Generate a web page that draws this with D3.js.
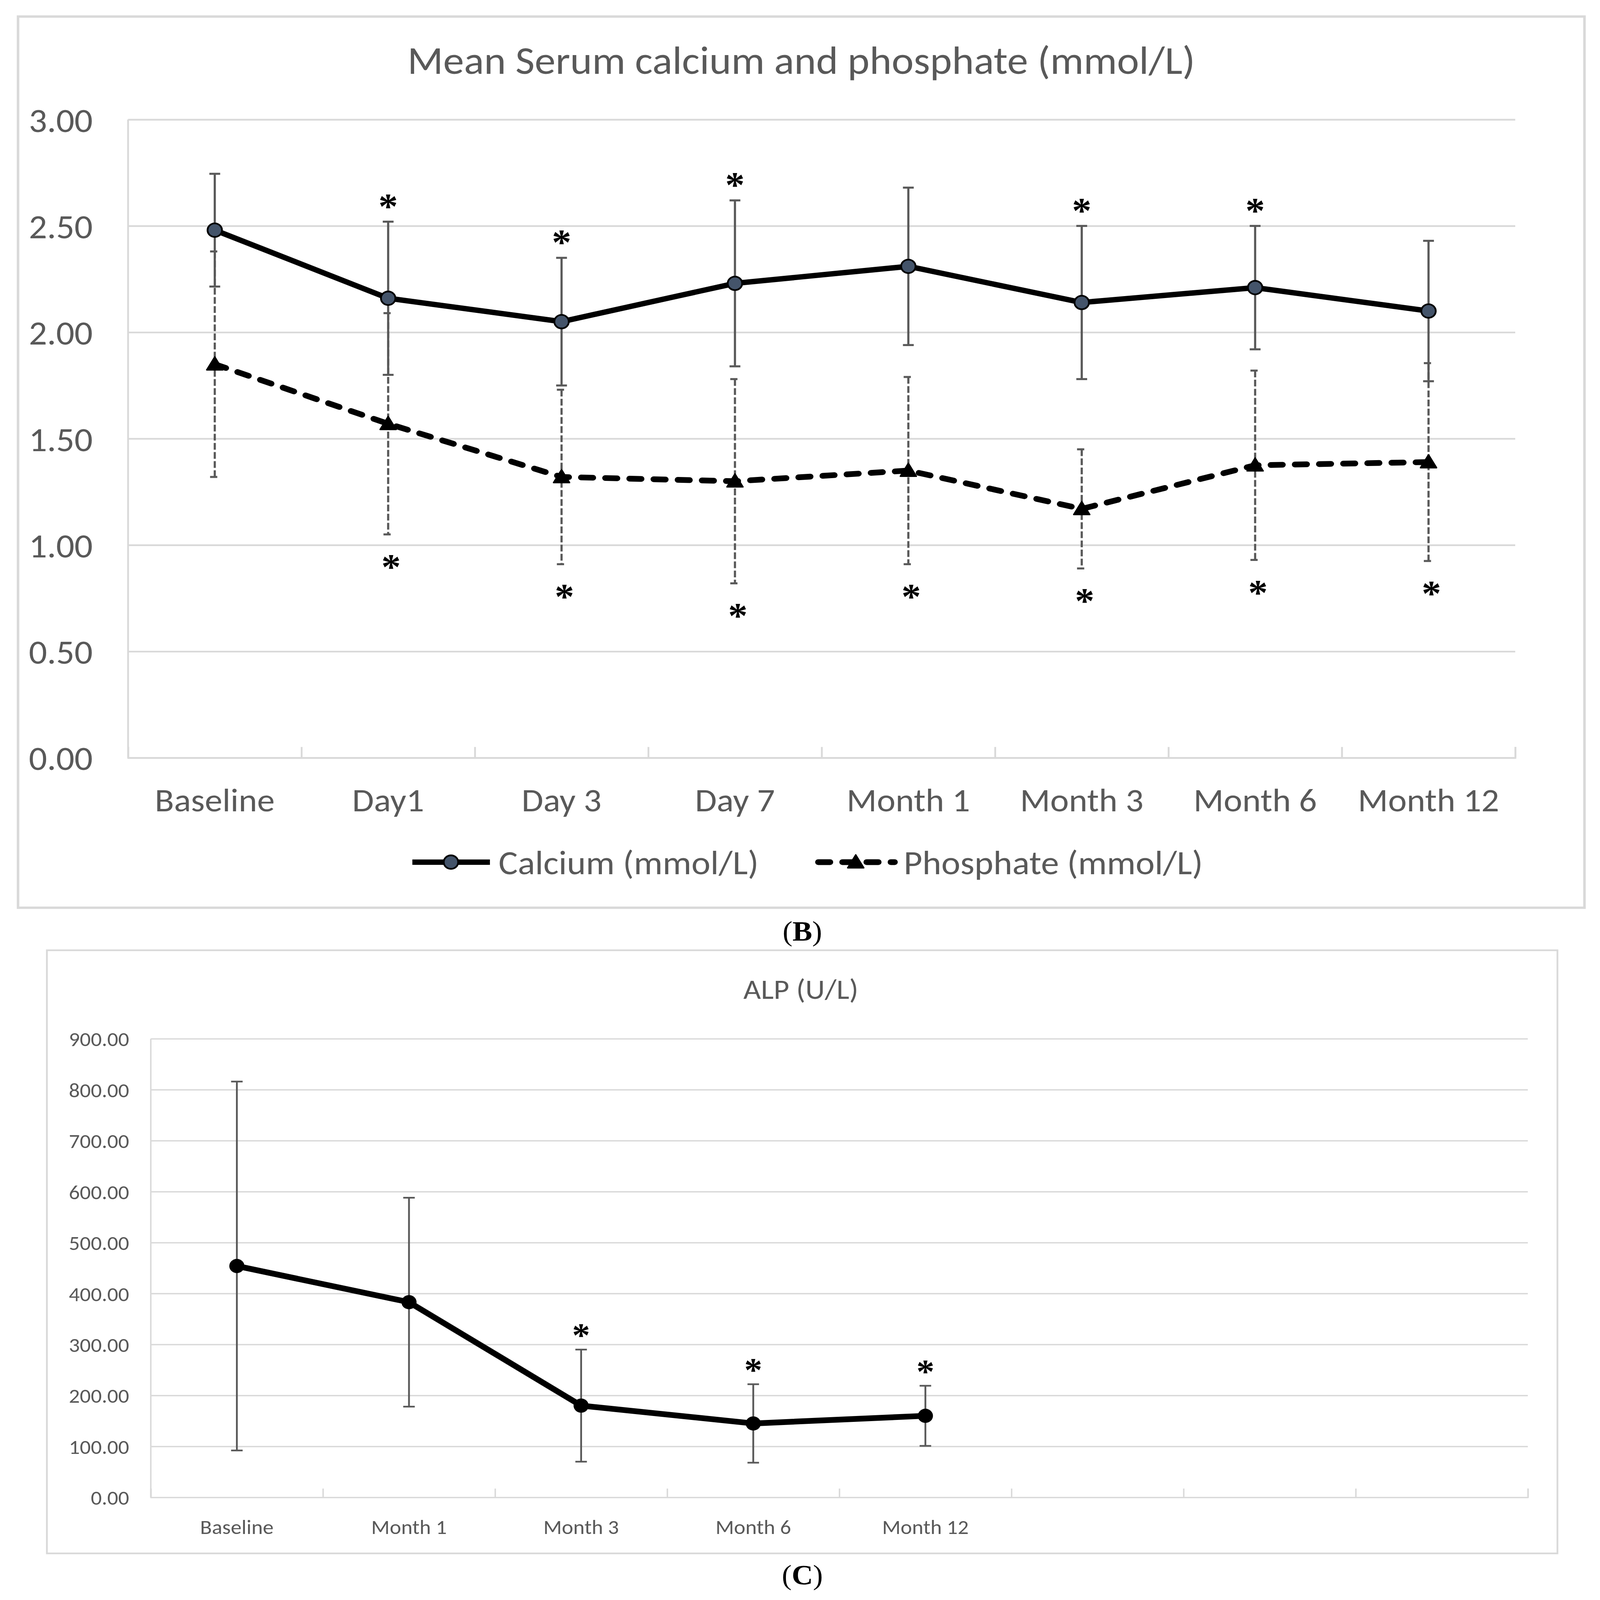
<!DOCTYPE html>
<html>
<head>
<meta charset="utf-8">
<script src="https://cdn.jsdelivr.net/npm/d3@7/dist/d3.min.js"></script>
<style>
html, body {
  margin: 0;
  padding: 0;
  width: 100%;
  height: 100%;
  overflow: hidden;
  background-color: white;
}
.axis text {
  font-family: Carlito, Calibri, Lato, sans-serif;
  fill: #595959;
}
.star {
  font-family: "Liberation Serif", "Times New Roman", serif;
  font-weight: bold;
  fill: black;
}
</style>
</head>
<body>
<script>
// panel B: calcium and phosphate
const topCategories = ["Baseline", "Day1", "Day 3", "Day 7", "Month 1", "Month 3", "Month 6", "Month 12"];
const calciumMean = [2.48, 2.16, 2.05, 2.23, 2.31, 2.14, 2.21, 2.10];
const calciumSD = [0.265, 0.36, 0.30, 0.39, 0.37, 0.36, 0.29, 0.33];
const calciumSig = [false, true, true, true, false, true, true, false];
const phosphateMean = [1.85, 1.57, 1.32, 1.30, 1.35, 1.17, 1.375, 1.39];
const phosphateSD = [0.53, 0.52, 0.41, 0.48, 0.44, 0.28, 0.445, 0.465];
const phosphateSig = [false, true, true, true, true, true, true, true];
const topTicks = [0, 0.5, 1, 1.5, 2, 2.5, 3];

// panel C: ALP
const alpCategories = ["Baseline", "Month 1", "Month 3", "Month 6", "Month 12"];
const alpMean = [454, 383, 180, 145, 160];
const alpSD = [362, 205, 110, 77, 59];
const alpSig = [false, false, true, true, true];
const alpTicks = [0, 100, 200, 300, 400, 500, 600, 700, 800, 900];

const W = 4435, H = 4738;
const grey = "#d9d9d9", textGrey = "#595959";
const sans = "Carlito, Calibri, Lato, sans-serif";

// scale the drawing to whatever viewport we get
const svg = d3.select("body").append("svg")
  .attr("viewBox", `0 0 ${W} ${H}`)
  .attr("preserveAspectRatio", "none")
  .style("width", "100vw").style("height", "100vh")
  .style("display", "block");

svg.append("rect").attr("width", W).attr("height", H).attr("fill", "white");

function caption(letter, x, y) {
  const t = svg.append("text")
    .attr("x", x).attr("y", y)
    .attr("text-anchor", "middle")
    .attr("font-family", "'Liberation Serif', 'Times New Roman', serif")
    .attr("font-size", 82)
    .attr("fill", "black");
  t.append("tspan").text("(");
  t.append("tspan").attr("font-weight", "bold").text(letter);
  t.append("tspan").text(")");
}

function errorBars(g, xs, ys, mean, sd, cap, style) {
  const bars = g.append("g")
    .attr("stroke", textGrey)
    .attr("stroke-width", style.width)
    .attr("stroke-dasharray", style.dash || null)
    .attr("fill", "none");
  mean.forEach((m, i) => {
    const cx = xs(i) + xs.bandwidth() / 2;
    const y1 = ys(m + sd[i]), y2 = ys(m - sd[i]);
    bars.append("line").attr("x1", cx).attr("x2", cx).attr("y1", y1).attr("y2", y2);
    bars.append("line").attr("x1", cx - cap).attr("x2", cx + cap).attr("y1", y1).attr("y2", y1);
    bars.append("line").attr("x1", cx - cap).attr("x2", cx + cap).attr("y1", y2).attr("y2", y2);
  });
}

// asterisks: drawn for the flagged indices only
function stars(g, sig, xOf, yOf, size) {
  g.selectAll(null).data(d3.range(sig.length).filter(i => sig[i])).join("text")
    .attr("class", "star")
    .attr("x", xOf).attr("y", yOf)
    .attr("text-anchor", "middle").attr("font-size", size)
    .text("*");
}

// ---------------- panel B ----------------
{
  const frame = {x: 50, y: 49, w: 4342, h: 2639};
  const left = 355, right = 4200, top = 354, bottom = 2244;

  svg.append("rect")
    .attr("x", frame.x).attr("y", frame.y)
    .attr("width", frame.w).attr("height", frame.h)
    .attr("fill", "white").attr("stroke", grey).attr("stroke-width", 7);

  svg.append("text")
    .attr("x", 2221).attr("y", 219)
    .attr("text-anchor", "middle")
    .attr("font-family", sans)
    .attr("font-size", 116)
    .attr("fill", textGrey)
    .text("Mean Serum calcium and phosphate (mmol/L)");

  const x = d3.scaleBand().domain(d3.range(topCategories.length)).range([left, right]);
  const y = d3.scaleLinear().domain([0, 3]).range([bottom, top]);
  const edge = d3.scaleLinear().domain([0, topCategories.length]).range([left, right]);
  const cx = i => x(i) + x.bandwidth() / 2;

  const g = svg.append("g");

  g.append("g").attr("class", "axis")
    .attr("transform", `translate(${left},0)`)
    .call(d3.axisLeft(y).tickValues(topTicks).tickFormat(d3.format(".2f")).tickSize(-(right - left)))
    .call(a => a.select(".domain").remove())
    .call(a => a.selectAll("line").attr("stroke", grey).attr("stroke-width", 5))
    .call(a => a.selectAll("text").attr("x", -98).attr("dy", "0.36em").attr("font-size", 100));

  // y axis line
  g.append("line").attr("x1", left).attr("x2", left).attr("y1", top).attr("y2", bottom)
    .attr("stroke", grey).attr("stroke-width", 5);

  // category boundary ticks
  g.append("g").attr("class", "axis")
    .attr("transform", `translate(0,${bottom})`)
    .call(d3.axisBottom(edge).tickValues(d3.range(topCategories.length + 1)).tickSize(-32).tickFormat(""))
    .call(a => a.select(".domain").attr("stroke", grey).attr("stroke-width", 5))
    .call(a => a.selectAll("line").attr("stroke", grey).attr("stroke-width", 5));

  g.append("g").attr("class", "axis")
    .attr("transform", `translate(0,${bottom})`)
    .call(d3.axisBottom(x).tickSize(0).tickFormat(i => topCategories[i]))
    .call(a => a.select(".domain").remove())
    .call(a => a.selectAll("text").attr("y", 158).attr("dy", 0).attr("font-size", 98));

  // error bars
  errorBars(g, x, y, phosphateMean, phosphateSD, 13, {width: 6, dash: "20,7"});
  errorBars(g, x, y, calciumMean, calciumSD, 15, {width: 6});

  const line = d3.line().x((d, i) => cx(i)).y(d => y(d));

  g.append("path").datum(phosphateMean)
    .attr("d", line).attr("fill", "none").attr("stroke", "black")
    .attr("stroke-width", 17).attr("stroke-dasharray", "33,34")
    .attr("stroke-linecap", "round").attr("stroke-linejoin", "round");

  g.append("path").datum(calciumMean)
    .attr("d", line).attr("fill", "none").attr("stroke", "black")
    .attr("stroke-width", 16).attr("stroke-linejoin", "round");

  const tri = d3.symbol(d3.symbolTriangle, 860);
  g.selectAll(".tri").data(phosphateMean).join("path")
    .attr("class", "tri")
    .attr("d", tri)
    .attr("transform", (d, i) => `translate(${cx(i)},${y(d) + 4})`)
    .attr("fill", "black").attr("stroke", "black").attr("stroke-width", 4)
    .attr("stroke-linejoin", "round");

  g.selectAll(".dot").data(calciumMean).join("circle")
    .attr("class", "dot")
    .attr("cx", (d, i) => cx(i)).attr("cy", d => y(d)).attr("r", 20)
    .attr("fill", "#44546a").attr("stroke", "black").attr("stroke-width", 5);

  // significance marks: above calcium bars, below phosphate bars
  stars(g, calciumSig, i => cx(i), i => y(calciumMean[i] + calciumSD[i]) - 60 + 50, 108);
  stars(g, phosphateSig, i => cx(i) + 8, i => y(phosphateMean[i] - phosphateSD[i]) + 82 + 50, 108);

  // legend
  const lg = svg.append("g").attr("transform", "translate(0,2553)");
  lg.append("line").attr("x1", 1143).attr("x2", 1358).attr("stroke", "black").attr("stroke-width", 16);
  lg.append("circle").attr("cx", 1250).attr("r", 20)
    .attr("fill", "#44546a").attr("stroke", "black").attr("stroke-width", 5);
  lg.append("text").attr("x", 1382).attr("dy", "0.36em")
    .attr("font-family", sans).attr("font-size", 100)
    .attr("fill", textGrey).text("Calcium (mmol/L)");

  lg.append("line").attr("x1", 2268).attr("x2", 2480).attr("stroke", "black").attr("stroke-width", 17)
    .attr("stroke-dasharray", "33,34").attr("stroke-linecap", "round");
  lg.append("path").attr("d", tri).attr("transform", "translate(2372,4)")
    .attr("fill", "black").attr("stroke", "black").attr("stroke-width", 4).attr("stroke-linejoin", "round");
  lg.append("text").attr("x", 2505).attr("dy", "0.36em")
    .attr("font-family", sans).attr("font-size", 100)
    .attr("fill", textGrey).text("Phosphate (mmol/L)");

  caption("B", 2224, 2785);
}

// ---------------- panel C ----------------
{
  const frame = {x: 130, y: 2814, w: 4187, h: 1786};
  const left = 418, right = 4235, top = 3076, bottom = 4434;
  const slots = 8;

  svg.append("rect")
    .attr("x", frame.x).attr("y", frame.y)
    .attr("width", frame.w).attr("height", frame.h)
    .attr("fill", "white").attr("stroke", grey).attr("stroke-width", 5);

  svg.append("text")
    .attr("x", 2220).attr("y", 2958)
    .attr("text-anchor", "middle")
    .attr("font-family", sans)
    .attr("font-size", 84)
    .attr("fill", textGrey)
    .text("ALP (U/L)");

  const x = d3.scaleBand().domain(d3.range(slots)).range([left, right]);
  const y = d3.scaleLinear().domain([0, 900]).range([bottom, top]);
  const edge = d3.scaleLinear().domain([0, slots]).range([left, right]);
  const cx = i => x(i) + x.bandwidth() / 2;

  const g = svg.append("g");

  g.append("g").attr("class", "axis")
    .attr("transform", `translate(${left},0)`)
    .call(d3.axisLeft(y).tickValues(alpTicks).tickFormat(d3.format(".2f")).tickSize(-(right - left)))
    .call(a => a.select(".domain").remove())
    .call(a => a.selectAll("line").attr("stroke", grey).attr("stroke-width", 4))
    .call(a => a.selectAll("text").attr("x", -60).attr("dy", "0.36em").attr("font-size", 60));

  g.append("line").attr("x1", left).attr("x2", left).attr("y1", top).attr("y2", bottom)
    .attr("stroke", grey).attr("stroke-width", 4);

  g.append("g").attr("class", "axis")
    .attr("transform", `translate(0,${bottom})`)
    .call(d3.axisBottom(edge).tickValues(d3.range(slots + 1)).tickSize(-26).tickFormat(""))
    .call(a => a.select(".domain").attr("stroke", grey).attr("stroke-width", 4))
    .call(a => a.selectAll("line").attr("stroke", grey).attr("stroke-width", 4));

  g.append("g").attr("class", "axis")
    .attr("transform", `translate(0,${bottom})`)
    .call(d3.axisBottom(x).tickSize(0).tickFormat(i => alpCategories[i] || ""))
    .call(a => a.select(".domain").remove())
    .call(a => a.selectAll("text").attr("y", 108).attr("dy", 0).attr("font-size", 60));

  errorBars(g, x, y, alpMean, alpSD, 16, {width: 5});

  g.append("path").datum(alpMean)
    .attr("d", d3.line().x((d, i) => cx(i)).y(d => y(d)))
    .attr("fill", "none").attr("stroke", "black")
    .attr("stroke-width", 17).attr("stroke-linejoin", "round");

  g.selectAll(".dot").data(alpMean).join("circle")
    .attr("class", "dot")
    .attr("cx", (d, i) => cx(i)).attr("cy", d => y(d)).attr("r", 21)
    .attr("fill", "black");

  stars(g, alpSig, i => cx(i), i => y(alpMean[i] + alpSD[i]) - 55 + 46, 100);

  caption("C", 2224, 4692);
}
</script>
</body>
</html>
